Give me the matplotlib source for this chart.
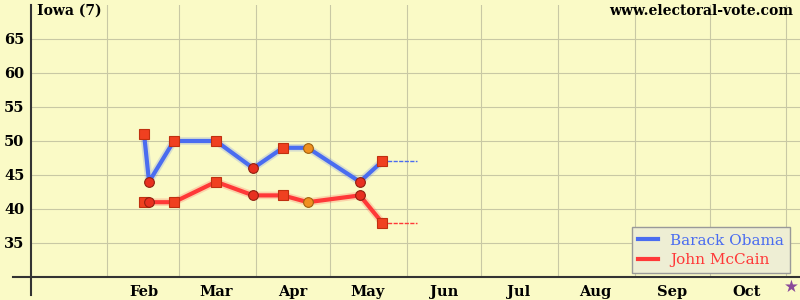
import datetime as dt
import matplotlib
matplotlib.use("Agg")
from matplotlib import pyplot as plt
import matplotlib.dates as mdates

# poll dates and values
poll_dates = ["2008-02-16", "2008-02-18", "2008-02-28", "2008-03-16", "2008-03-31",
              "2008-04-12", "2008-04-22", "2008-05-13", "2008-05-22"]
obama = [51, 44, 50, 50, 46, 49, 49, 44, 47]
mccain = [41, 41, 41, 44, 42, 42, 41, 42, 38]
marker_kind = ["s", "o", "s", "s", "o", "s", "O", "o", "s"]  # O = orange circle
projection_end = "2008-06-05"
month_labels = ["Feb", "Mar", "Apr", "May", "Jun", "Jul", "Aug", "Sep", "Oct"]

bg = "#fafac6"
blue = "#4a6cf0"
red = "#ff3838"

dates = [dt.datetime.strptime(d, "%Y-%m-%d") for d in poll_dates]
end = dt.datetime.strptime(projection_end, "%Y-%m-%d")

fig = plt.figure(figsize=(8, 3), dpi=100, facecolor=bg)
ax = fig.add_axes([30 / 800, 23 / 300, 770 / 800, 272 / 300])
ax.set_facecolor(bg)

x0 = dt.datetime(2008, 1, 1)
x1 = x0 + dt.timedelta(days=(800 - 30) / 2.48)
ax.set_xlim(x0, x1)
ax.set_ylim(30, 70)

for vals, col, lab in [(obama, blue, "Barack Obama"), (mccain, red, "John McCain")]:
    ax.plot(dates, vals, color=col, lw=5.5, alpha=0.2, solid_joinstyle="round", zorder=3)
    ax.plot(dates, vals, color=col, lw=3, solid_joinstyle="round", zorder=4, label=lab)
    ax.plot([dates[-1], end], [vals[-1], vals[-1]], color=col, lw=1, ls=(0, (3, 1)), zorder=3)
    for d, v, k in zip(dates, vals, marker_kind):
        if k == "s":
            ax.plot(d, v, marker="s", ms=6.5, mfc="#f04020", mec="#c03010", mew=0.8, zorder=5)
        elif k == "o":
            ax.plot(d, v, marker="o", ms=7, mfc="#e83020", mec="#902010", mew=0.8, zorder=5)
        else:
            ax.plot(d, v, marker="o", ms=7, mfc="#f09020", mec="#a06010", mew=0.8, zorder=5)

ax.xaxis.set_major_locator(mdates.MonthLocator())
ax.xaxis.set_major_formatter(plt.NullFormatter())
mids = [dt.datetime(2008, m, 16) for m in range(2, 11)]
ax.set_xticks(mids, minor=True)
ax.set_xticklabels(month_labels, minor=True)
ax.set_yticks(range(35, 70, 5))
ax.tick_params(which="both", length=0)
ax.tick_params(axis="x", which="minor", pad=6)
ax.tick_params(axis="y", pad=4)
for t in ax.get_xticklabels(minor=True) + ax.get_yticklabels():
    t.set_fontfamily("DejaVu Serif")
    t.set_fontweight("bold")
    t.set_fontsize(10.5)
ax.grid(True, which="major", color="#c8c8a4", lw=0.8)

for s in ["top", "right", "left", "bottom"]:
    ax.spines[s].set_visible(False)
fig.add_artist(plt.Line2D([31 / 800, 31 / 800], [5 / 300, 295 / 300], color="#333333", lw=1.5))
fig.add_artist(plt.Line2D([13 / 800, 1.0], [23 / 300, 23 / 300], color="#333333", lw=1.5))

fig.text(37 / 800, 1 - 11 / 300, "Iowa (7)", fontfamily="DejaVu Serif", fontweight="bold",
         fontsize=10, va="center", ha="left")
fig.text(793 / 800, 1 - 11 / 300, "www.electoral-vote.com", fontfamily="DejaVu Serif",
         fontweight="bold", fontsize=10, va="center", ha="right")
fig.text(791 / 800, 1 - 287 / 300, "\u2605", color="#8a4a9a", fontsize=12, ha="center", va="center")

leg = ax.legend(loc="lower right", bbox_to_anchor=(1 - 10 / 770, 4 / 272), borderaxespad=0,
                frameon=True, fancybox=False, facecolor="#eeeed4", edgecolor="#999999",
                handlelength=1.3, handletextpad=0.8, borderpad=0.4, labelspacing=0.35,
                prop={"family": "DejaVu Serif", "size": 11})
leg.get_frame().set_alpha(1)
for t, c in zip(leg.get_texts(), [blue, red]):
    t.set_color(c)

fig.savefig("out.png", dpi=100, facecolor=bg)
